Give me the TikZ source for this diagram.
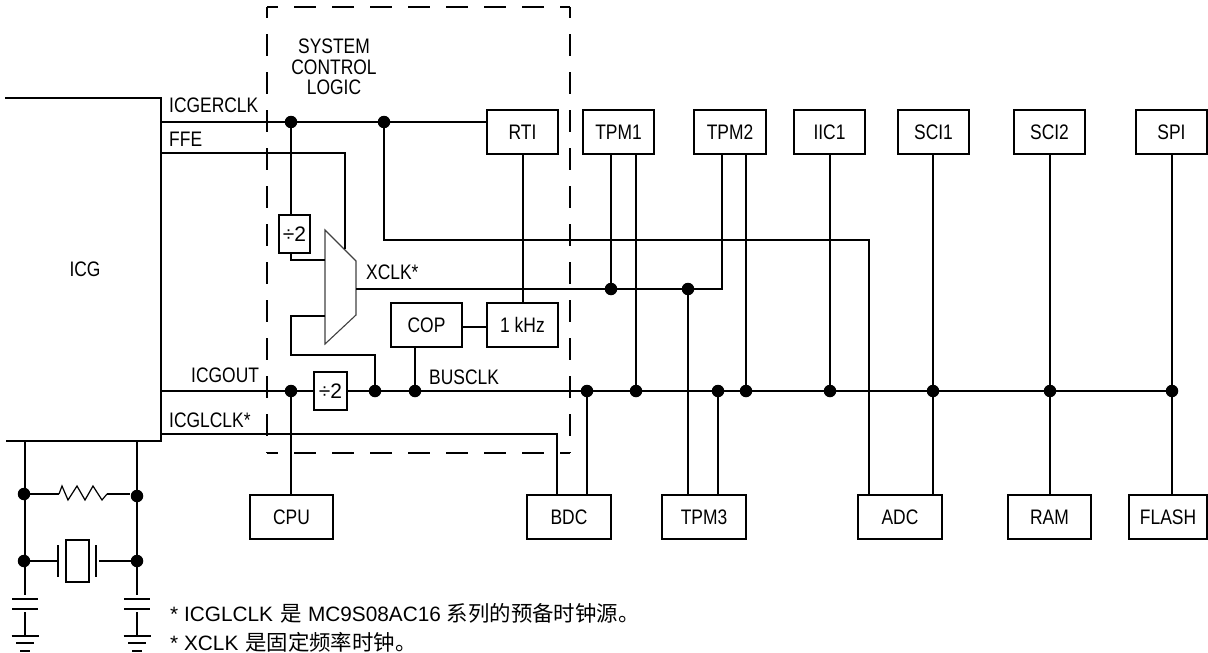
\documentclass[tikz,border=0pt]{standalone}
\usepackage{fontspec}
\setmainfont{Liberation Sans}
\newfontfamily\narrowf[FakeStretch=0.83]{Liberation Sans}
\newfontfamily\cjk[Scale=1.03]{Noto Sans CJK SC}
\tikzset{
  wire/.style={line width=1.7pt},
  blockbox/.style={draw,line width=1.7pt,fill=white,minimum height=44pt,font=\narrowf\fontsize{21}{21}\selectfont,inner sep=0pt},
  divbox/.style={blockbox,minimum height=38pt,font=\fontsize{21}{21}\selectfont},
  tag/.style={font=\narrowf\fontsize{21}{21}\selectfont,inner sep=0pt},
  note/.style={font=\fontsize{20.8}{20.8}\selectfont,inner sep=0pt,anchor=west},
  joint/.style={circle,fill=black,minimum size=12.5pt,inner sep=0pt},
  boundary/.style={line width=1.5pt,dash pattern=on 22pt off 16pt,dash phase=11pt},
}
\begin{document}
\begin{tikzpicture}[x=1pt,y=-1pt]
\useasboundingbox (0,0) rectangle (1208,653);
% dashed boundary
\coordinate (b1) at (267,7); \coordinate (b2) at (570,7);
\coordinate (b3) at (570,453); \coordinate (b4) at (267,453);
\draw[boundary] (b1) -- (b2);
\draw[boundary] (b2) -- (b3);
\draw[boundary] (b1) -- (b4);
\draw[boundary] (b4) -- (b3);
% ICG
\coordinate (icgtl) at (5,98);
\coordinate (icgtr) at (161,98);
\coordinate (icgbr) at (161,441);
\coordinate (icgbl) at (6,441);
\draw[wire] (icgtl) -- (icgtr) -- (icgbr) -- (icgbl);
\node[tag] (icg) at (85,269) {ICG};
% blocks
\newcommand{\blk}[4]{\node[blockbox,minimum width=#3pt] (#1) at #2 {#4};}
\blk{rti}{(522.5,132)}{71}{RTI}
\blk{tpma}{(618.5,132)}{71}{TPM1}
\blk{tpmb}{(730,132)}{72}{TPM2}
\blk{iic}{(829.5,132)}{71}{IIC1}
\blk{scia}{(933.5,132)}{71}{SCI1}
\blk{scib}{(1049.5,132)}{71}{SCI2}
\blk{spi}{(1171.5,132)}{71}{SPI}
\blk{cop}{(426.5,325)}{71}{COP}
\blk{khz}{(522.5,325)}{71}{1 kHz}
\blk{cpu}{(291.5,517)}{83}{CPU}
\blk{bdc}{(569,517)}{84}{BDC}
\blk{tpmc}{(704,517)}{84}{TPM3}
\blk{adc}{(900,517)}{84}{ADC}
\blk{ram}{(1049.5,517)}{83}{RAM}
\blk{flash}{(1168,517)}{78}{FLASH}
\node[divbox,minimum width=31pt] (diva) at (294.5,234) {÷2};
\node[divbox,minimum width=33pt] (divb) at (330.5,391) {÷2};
% mux
\coordinate (m1) at (325,230); \coordinate (m2) at (356,261);
\coordinate (m3) at (356,315); \coordinate (m4) at (325,344);
\draw[line width=1.1pt,draw=black!75] (m1) -- (m2) -- (m3) -- (m4) -- cycle;
\coordinate (mout) at (356,289);
% joints
\foreach \n/\x/\y in {ja/291/122,jb/384/122,jc/291/391,jd/375/391,je/415/391,jf/587/391,jg/636/391,jh/718/391,ji/746/391,jj/830/391,jk/933/391,jl/1050/391,jm/1172/391,jn/611/289,jo/688/289}
  \node[joint] (\n) at (\x,\y) {};
% wires
\coordinate (ie) at (161,122);
\coordinate (ff) at (161,153);
\coordinate (io) at (161,391);
\coordinate (il) at (161,434);
\draw[wire] (ie) -- (ja) -- (jb) -- (rti.west |- jb);
\draw[wire] (ja) -- (ja |- diva.north);
\draw[wire] (ff) -- (345,153) -- (345,249);
\draw[wire] (diva.south -| ja) -- (291,260) -- (325,260);
\draw[wire] (325,316) -- (291,316) -- (291,355) -- (375,355) -- (jd);
\draw[wire] (jb) -- (384,240) -- (869,240) -- (869,495);
\draw[wire] (mout) -- (722,289) -- (722,154);
\draw[wire] (jn) -- (611,154);
\draw[wire] (io) -- (jc) -- (divb.west);
\draw[wire] (divb.east) -- (jd) -- (je) -- (jf) -- (jg) -- (jh) -- (ji) -- (jj) -- (jk) -- (jl) -- (jm);
\draw[wire] (jc) -- (cpu.north -| jc);
\draw[wire] (il) -- (557,434) -- (557,495);
\draw[wire] (jf) -- (jf |- bdc.north);
\draw[wire] (jg) -- (jg |- tpma.south);
\draw[wire] (ji) -- (ji |- tpmb.south);
\draw[wire] (jo) -- (jo |- tpmc.north);
\draw[wire] (jh) -- (jh |- tpmc.north);
\draw[wire] (jj) -- (jj |- iic.south);
\draw[wire] (jk |- scia.south) -- (jk |- adc.north);
\draw[wire] (jl |- scib.south) -- (jl |- ram.north);
\draw[wire] (jm |- spi.south) -- (jm |- flash.north);
\draw[wire] (523,154) -- (523,303);
\draw[wire] (je) -- (415,347);
\draw[wire] (462,327) -- (487,327);
% external circuit
\foreach \n/\x/\y in {ka/24/494,kb/137/496,kc/24/561,kd/137/561}
  \node[joint] (\n) at (\x,\y) {};
\coordinate (xl) at (25,441); \coordinate (xr) at (137,441);
\coordinate (cl) at (25,595); \coordinate (cr) at (137,595);
\draw[wire] (xl) -- (cl);
\draw[wire] (xr) -- (cr);
\draw[wire] (ka) -- (59,494);
\draw[line width=1.2pt] (59,494) -- (62,486) -- (68,500) -- (77,486) -- (85,500) -- (93,486) -- (102,500) -- (107,494);
\draw[wire] (107,494) -- (130,494);
\draw[wire] (kc) -- (58,561);
\draw[wire] (kd) -- (99,561);
\draw[wire] (58,545) -- (58,577);
\draw[wire] (96,545) -- (96,577);
\draw[wire] (66,540) rectangle (89,582);
\foreach \x in {25,137}{
  \draw[wire] (\x-13,599) -- (\x+13,599);
  \draw[wire] (\x-13,609) -- (\x+13,609);
  \draw[wire] (\x,612) -- (\x,636);
  \draw[wire] (\x-13.5,636) -- (\x+13.5,636);
  \draw[wire] (\x-9,643) -- (\x+9,643);
  \draw[wire] (\x-5,651) -- (\x+5,651);
}
% labels
\node[tag,anchor=west] (l1) at (169,105) {ICGERCLK};
\node[tag,anchor=west] (l2) at (169,139.5) {FFE};
\node[tag,anchor=west] (l3) at (191,375.5) {ICGOUT};
\node[tag,anchor=west] (l4) at (169,420) {ICGLCLK*};
\node[tag,anchor=west] (l5) at (366,272) {XCLK*};
\node[tag,anchor=west] (l6) at (429,377) {BUSCLK};
\node[tag] (s1) at (334,46) {SYSTEM};
\node[tag] (s2) at (334,67.5) {CONTROL};
\node[tag] (s3) at (334,87.5) {LOGIC};
\node[note] (n1) at (170,613) {* ICGLCLK \kern2pt{\cjk 是} MC9S08AC16 {\cjk 系列的预备时钟源。}};
\node[note] (n2) at (170,642) {* XCLK \kern1pt{\cjk 是固定频率时钟。}};
\end{tikzpicture}
\end{document}
